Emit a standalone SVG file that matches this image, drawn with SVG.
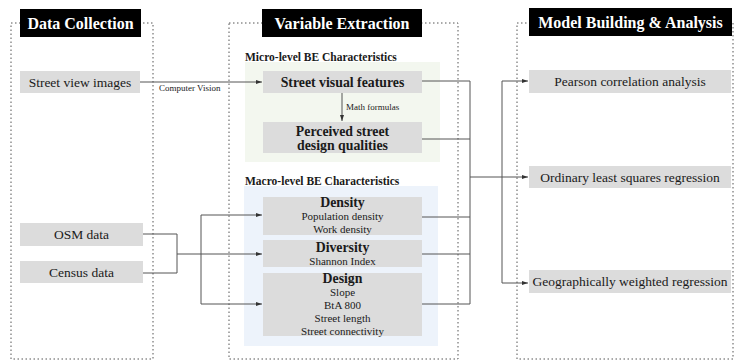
<svg xmlns="http://www.w3.org/2000/svg" width="735" height="360" viewBox="0 0 735 360" font-family="'Liberation Serif', Tinos, 'Times New Roman', 'DejaVu Serif', serif">
<style>
text{font-family:'Liberation Serif',Tinos,'Times New Roman','DejaVu Serif',serif;fill:#1a1a1a}
.panel{fill:none;stroke:#555;stroke-width:1;stroke-dasharray:1.5 2.5}
.title{fill:#000}
.tt{fill:#fff;font-weight:bold;font-size:16px;text-anchor:middle}
.node{fill:#dcdcdc}
.nt{font-size:13.5px;text-anchor:middle}
.nb{font-size:13.8px;font-weight:bold;text-anchor:middle}
.sub{font-size:11px;text-anchor:middle}
.grp{font-size:11.5px;font-weight:bold}
.lbl{font-size:9px}
.c{fill:none;stroke:#555;stroke-width:1}
.a{marker-end:url(#ah)}
</style>
<defs>
<marker id="ah" markerWidth="7" markerHeight="6" refX="6" refY="3" orient="auto" markerUnits="userSpaceOnUse">
<path d="M0,1 L6,3 L0,5 Z" fill="#333"/>
</marker>
</defs>
<rect width="735" height="360" fill="#fff"/>
<g id="panels">
<rect class="panel" x="11" y="23" width="142" height="336"/>
<rect class="panel" x="229" y="23" width="229" height="336"/>
<rect class="panel" x="517" y="23" width="216" height="336"/>
<rect x="245" y="62" width="195" height="100" fill="#f3f7ef"/>
<rect x="244" y="186" width="194" height="160" fill="#edf3fb"/>
<text class="grp" x="245" y="61">Micro-level BE Characteristics</text>
<text class="grp" x="245" y="185">Macro-level BE Characteristics</text>
</g>
<g id="title-data"><rect class="title" x="20" y="9" width="121" height="28"/><text class="tt" x="80.5" y="29">Data Collection</text></g>
<g id="title-var"><rect class="title" x="262" y="9" width="160" height="28"/><text class="tt" x="342" y="29">Variable Extraction</text></g>
<g id="title-model"><rect class="title" x="529" y="8" width="203" height="28"/><text class="tt" x="630.5" y="28">Model Building &amp; Analysis</text></g>

<g id="connectors">
<path class="c a" d="M140,82 H262"/>
<text class="lbl" x="159" y="91">Computer Vision</text>
<path class="c a" d="M342,93 V121"/>
<text class="lbl" x="346" y="110">Math formulas</text>
<path class="c" d="M422,81 H470 M422,139 H470 M422,217 H470 M422,254 H470 M422,304 H470 M470,81 V304"/>
<path class="c a" d="M470,177 H528"/>
<path class="c" d="M502,81 V283"/>
<path class="c a" d="M502,81 H528"/>
<path class="c a" d="M502,283 H528"/>
<path class="c" d="M143,234 H177 M143,273 H177 M177,234 V273 M201,215 V304"/>
<path class="c a" d="M177,254 H262"/>
<path class="c a" d="M201,215 H262"/>
<path class="c a" d="M201,304 H262"/>
</g>

<g id="street-view"><rect class="node" x="20" y="71" width="120" height="22"/><text class="nt" x="80" y="86.5">Street view images</text></g>
<g id="osm"><rect class="node" x="20" y="223" width="123" height="23"/><text class="nt" x="81.5" y="239">OSM data</text></g>
<g id="census"><rect class="node" x="20" y="261" width="123" height="22"/><text class="nt" x="81.5" y="276.5">Census data</text></g>

<g id="visual"><rect class="node" x="263" y="71" width="159" height="22"/><text class="nb" x="342.5" y="86.5">Street visual features</text></g>
<g id="perceived"><rect class="node" x="263" y="122" width="159" height="31"/><text class="nb" x="342.5" y="135.5">Perceived street</text><text class="nb" x="342.5" y="149.5">design qualities</text></g>
<g id="density"><rect class="node" x="263" y="197" width="159" height="38"/><text class="nb" x="342.5" y="207">Density</text><text class="sub" x="342.5" y="220">Population density</text><text class="sub" x="342.5" y="233">Work density</text></g>
<g id="diversity"><rect class="node" x="263" y="240" width="159" height="27"/><text class="nb" x="342.5" y="252">Diversity</text><text class="sub" x="342.5" y="265">Shannon Index</text></g>
<g id="design"><rect class="node" x="263" y="273" width="159" height="63"/><text class="nb" x="342.5" y="283">Design</text><text class="sub" x="342.5" y="296">Slope</text><text class="sub" x="342.5" y="309">BtA 800</text><text class="sub" x="342.5" y="322">Street length</text><text class="sub" x="342.5" y="335">Street connectivity</text></g>

<g id="pearson"><rect class="node" x="529" y="70" width="202" height="23"/><text class="nt" x="630" y="86">Pearson correlation analysis</text></g>
<g id="ols"><rect class="node" x="529" y="166" width="202" height="22"/><text class="nt" x="630" y="181.5">Ordinary least squares regression</text></g>
<g id="gwr"><rect class="node" x="529" y="270" width="202" height="23"/><text class="nt" x="630" y="286">Geographically weighted regression</text></g>
</svg>
